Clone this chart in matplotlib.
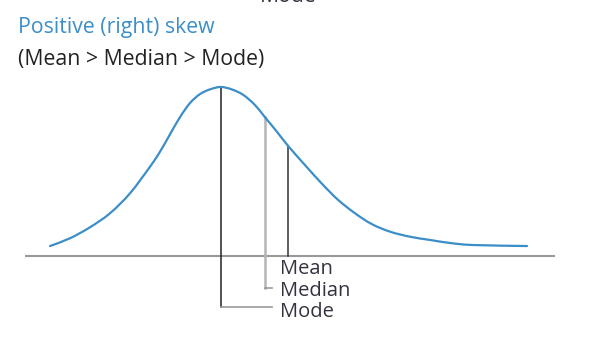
import numpy as np
import matplotlib.pyplot as plt
from matplotlib.path import Path
from matplotlib.patches import PathPatch

# curva: x em unidades arbitrárias (0-100), densidade relativa (pico = 1)
curve_x = [4.72, 8.49, 12.26, 16.04, 19.81, 23.58, 25.47, 27.36, 29.25,
           31.13, 33.02, 34.91, 36.92, 39.0, 41.19, 43.40, 45.28, 47.49,
           49.68, 52.83, 55.98, 59.11, 62.26, 65.42, 68.87, 72.64, 76.42,
           80.19, 84.53, 94.72]
curve_y = [0.059, 0.105, 0.170, 0.253, 0.371, 0.528, 0.617, 0.720, 0.822,
           0.905, 0.958, 0.986, 1.0, 0.986, 0.953, 0.893, 0.821, 0.737,
           0.650, 0.538, 0.429, 0.331, 0.253, 0.189, 0.144, 0.114, 0.095,
           0.077, 0.065, 0.059]

stat_names = ["Mean", "Median", "Mode"]
stat_x = [49.68, 45.28, 36.92]

title = "Positive (right) skew"
subtitle = "(Mean > Median > Mode)"

blue = "#3b8ec7"
text_col = "#333340"

plt.rcParams["font.family"] = ["Open Sans", "DejaVu Sans"]


def smooth_path(xs, ys):
    """Caminho Bézier (Catmull-Rom) passando pelos pontos lidos."""
    pts = np.column_stack([xs, ys])
    verts = [pts[0]]
    codes = [Path.MOVETO]
    for i in range(len(pts) - 1):
        p0 = pts[max(i - 1, 0)]
        p1, p2 = pts[i], pts[i + 1]
        p3 = pts[min(i + 2, len(pts) - 1)]
        verts += [p1 + (p2 - p0) / 6, p2 - (p3 - p1) / 6, p2]
        codes += [Path.CURVE4] * 3
    return Path(verts, codes)


fig = plt.figure(figsize=(5.9, 3.5), dpi=100)
ax = fig.add_axes([0, 0, 1, 1])
# 1 unidade x = 5.3 px, 1 unidade y = 169 px
ax.set_xlim(-25 / 5.3, 565 / 5.3)
ax.set_ylim(-94 / 169, 256 / 169)
ax.axis("off")

# linha de base
ax.plot([0, 100], [0, 0], color="#999999", lw=1.5, solid_capstyle="butt")

# curva
ax.add_patch(PathPatch(smooth_path(curve_x, curve_y), facecolor="none",
                       edgecolor=blue, lw=1.6, capstyle="round", zorder=3))

mean_x, median_x, mode_x = stat_x
label_x = 48.1
connector_end = 46.6
y_mean_lab, y_median_lab, y_mode_lab = -13 / 169, -35 / 169, -56 / 169

# mode: linha preta do pico até abaixo da base
mode_top = np.interp(mode_x, curve_x, curve_y)
ax.plot([mode_x, mode_x], [mode_top, -51 / 169], color="#222222", lw=1.1, zorder=2)
ax.plot([mode_x, connector_end], [-51 / 169, -51 / 169], color="#999999", lw=1.2)

# median: linha cinza clara
median_top = np.interp(median_x, curve_x, curve_y)
ax.plot([median_x, median_x], [median_top, -32 / 169], color="#b5b5b5", lw=1.8, zorder=2)
ax.plot([median_x, connector_end], [-32 / 169, -32 / 169], color="#999999", lw=1.2)

# mean: linha escura até a base
mean_top = np.interp(mean_x, curve_x, curve_y)
ax.plot([mean_x, mean_x], [mean_top, 0], color="#333333", lw=1.1, zorder=2)

for name, y in zip(stat_names, [y_mean_lab, y_median_lab, y_mode_lab]):
    ax.text(label_x, y, name, color=text_col, fontsize=14.5, va="center", ha="left")

fig.text(18 / 590, 1 - 28 / 350, title, color=blue, fontsize=15.3, va="center", ha="left")
fig.text(18 / 590, 1 - 59 / 350, subtitle, color="#222222", fontsize=15.3,
         va="center", ha="left")
# resto do rótulo do painel de cima, cortado
fig.text(260 / 590, 1 - 2.5 / 350, "Mode", color=text_col, fontsize=15.3,
         va="baseline", ha="left")

fig.savefig("out.png", dpi=100)
